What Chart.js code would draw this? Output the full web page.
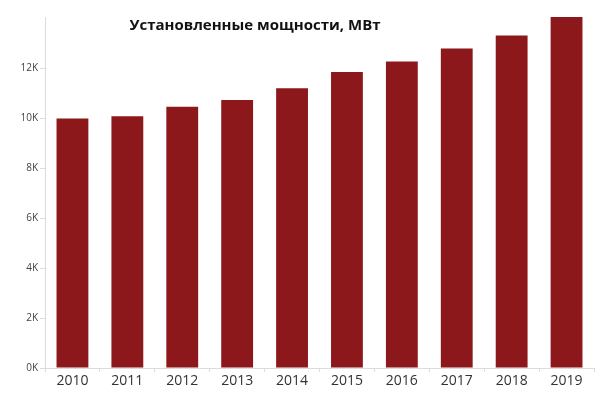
<!DOCTYPE html>
<html>
<head>
<meta charset="utf-8">
<script src="https://cdn.jsdelivr.net/npm/chart.js@4"></script>
<style>
    html, body { margin: 0; padding: 0; background: #fff; }
    #wrap { width: 600px; height: 406px; }
</style>
</head>
<body>
<div id="wrap"><canvas id="capacityChart" width="600" height="406"></canvas></div>
<script>
// Data
const years = ['2010', '2011', '2012', '2013', '2014', '2015', '2016', '2017', '2018', '2019'];
const capacityMW = [10000, 10090, 10470, 10740, 11210, 11870, 12290, 12810, 13330, 14070];
const yTickValues = [0, 2000, 4000, 6000, 8000, 10000, 12000];
const yTickLabels = ['0K', '2K', '4K', '6K', '8K', '10K', '12K'];
const chartTitle = 'Установленные мощности, МВт';

// Title drawn over the plot, a bit left of centre like the original
const titlePlugin = {
    id: 'overlayTitle',
    afterDraw(chart) {
        const ctx = chart.ctx;
        ctx.save();
        ctx.font = 'bold 15px "Open Sans", sans-serif';
        ctx.fillStyle = '#111';
        ctx.textAlign = 'center';
        ctx.textBaseline = 'middle';
        ctx.fillText(chartTitle, chart.chartArea.left + 210, 26);
        ctx.restore();
    }
};

const ctx = document.getElementById('capacityChart').getContext('2d');
new Chart(ctx, {
    type: 'bar',
    data: {
        labels: years,
        datasets: [
            {
                label: chartTitle,
                data: capacityMW,
                backgroundColor: '#8c181b',
                categoryPercentage: 1,
                barPercentage: 0.58
            }
        ]
    },
    options: {
        responsive: false,
        animation: false,
        layout: {
            padding: { top: 17, right: 6, left: 0, bottom: 0 }
        },
        plugins: {
            legend: { display: false },
            title: { display: false },
            tooltip: { enabled: false }
        },
        scales: {
            x: {
                grid: {
                    drawOnChartArea: false,
                    drawTicks: true,
                    tickLength: 4,
                    color: '#dcdcdc'
                },
                border: { color: '#dcdcdc' },
                ticks: {
                    color: '#333',
                    padding: 1,
                    font: { family: '"Open Sans", sans-serif', size: 14 }
                },
                afterFit(scale) { scale.height = 38; }
            },
            y: {
                min: 0,
                max: 14070,
                afterBuildTicks(scale) {
                    scale.ticks = yTickValues.map(v => ({ value: v }));
                },
                grid: {
                    drawOnChartArea: false,
                    drawTicks: true,
                    tickLength: 5,
                    color: '#dcdcdc'
                },
                border: { color: '#dcdcdc' },
                ticks: {
                    color: '#444',
                    padding: 2,
                    font: { family: '"Open Sans", sans-serif', size: 10 },
                    callback: (value) => yTickLabels[yTickValues.indexOf(value)]
                },
                afterFit(scale) { scale.width = 45; }
            }
        }
    },
    plugins: [titlePlugin]
});
</script>
</body>
</html>
